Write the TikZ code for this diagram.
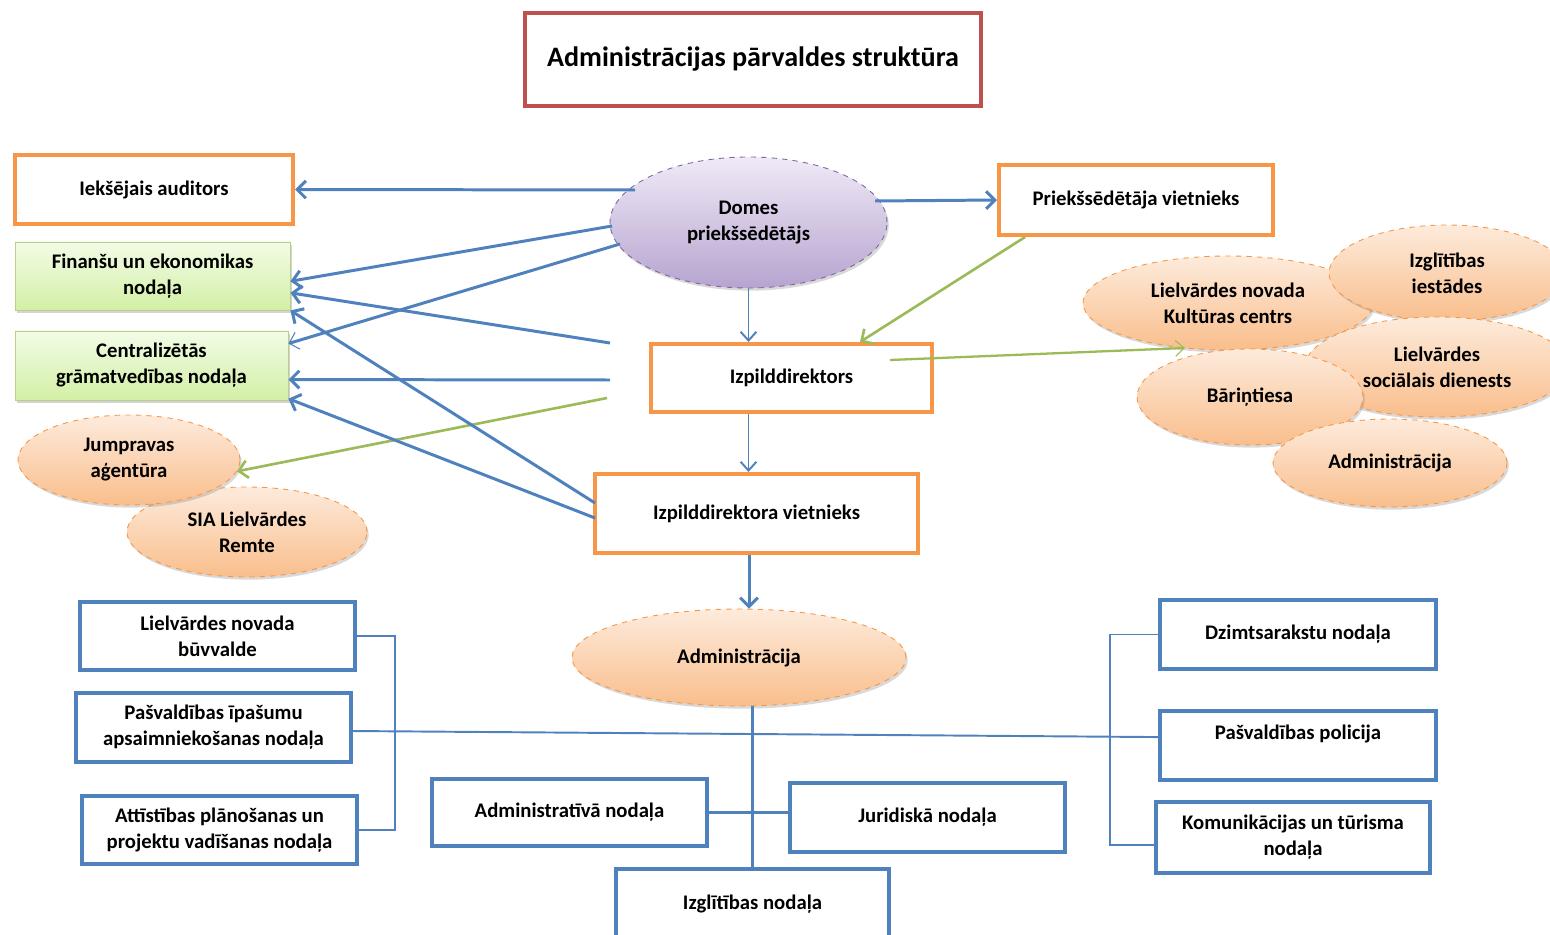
\documentclass[tikz,border=0pt]{standalone}
\usepackage{fontspec}
\setmainfont{Carlito}
\usetikzlibrary{arrows.meta,shapes.geometric,shadows}
\definecolor{oborder}{HTML}{F79646}
\definecolor{bblue}{HTML}{4F81BD}
\definecolor{tred}{HTML}{C0504D}
\definecolor{ggreen}{HTML}{9BBB59}
\definecolor{gtop}{HTML}{F2FCE6}
\definecolor{gbot}{HTML}{D3EFA6}
\definecolor{otop}{HTML}{FDEBDC}
\definecolor{obot}{HTML}{F9BE8C}
\definecolor{ptop}{HTML}{F0EAF7}
\definecolor{pbot}{HTML}{B6A4CF}
\definecolor{pborder}{HTML}{8064A2}
\begin{document}
\begin{tikzpicture}[x=0.02cm,y=-0.02cm,
  wh/.style 2 args={minimum width={#1*0.02cm}, minimum height={#2*0.02cm}},
  txt/.style={align=center, font=\bfseries\fontsize{11.8}{14.8}\selectfont, inner sep=1pt},
  tbox/.style={draw=tred, line width=2.3pt, fill=white, align=center, font=\bfseries\fontsize{16}{19}\selectfont},
  obox/.style={txt, draw=oborder, line width=2.3pt, fill=white},
  bbox/.style={txt, draw=bblue, line width=2.3pt, fill=white},
  gbox/.style={txt, draw=ggreen!70, line width=0.5pt, top color=gtop, bottom color=gbot,
     drop shadow={opacity=0.35, shadow xshift=1pt, shadow yshift=-1.5pt}},
  oell/.style={txt, ellipse, draw=oborder, dashed, line width=0.5pt, top color=otop, bottom color=obot,
     drop shadow={opacity=0.3, shadow xshift=1pt, shadow yshift=-1.5pt}},
  pell/.style={txt, ellipse, draw=pborder, dashed, line width=0.5pt, top color=ptop, bottom color=pbot,
     drop shadow={opacity=0.3, shadow xshift=1pt, shadow yshift=-1.5pt}},
  barr/.style={draw=bblue, line width=1.7pt, -{Straight Barb[length=5pt,width=10pt]}},
  tarr/.style={draw=bblue, line width=1.1pt, -{Straight Barb[length=5pt,width=9pt]}},
  garr/.style={draw=ggreen, line width=1.5pt, -{Straight Barb[length=5pt,width=10pt]}},
  gtarr/.style={draw=ggreen, line width=1.3pt, -{Straight Barb[length=5pt,width=9pt,line width=0.6pt]}},
  bline/.style={draw=bblue, line width=1.1pt},
  bthick/.style={draw=bblue, line width=1.7pt}
]
\useasboundingbox (0,0) rectangle (1550,935);
\clip (0,0) rectangle (1550,935);

% title
\node[tbox, wh={456}{93}] (title) at (753,59.5) {Administrācijas pārvaldes struktūra};

% left column
\node[obox, wh={278}{69}] (ieks) at (154,189.5) {Iekšējais auditors};
\node[gbox, wh={275}{68}] (fin) at (152.5,276) {Finanšu un ekonomikas\\nodaļa};
\node[gbox, wh={273}{69}] (cgn) at (151.5,365.5) {Centralizētās\\grāmatvedības nodaļa};
\node[oell, wh={240}{90}] (sia) at (247,532) {SIA Lielvārdes\\Remte};
\node[oell, wh={222}{90}] (jump) at (129,460) {Jumpravas\\aģentūra};

% centre
\node[pell, wh={277}{131}] (domes) at (748.5,222.5) {Domes\\priekšsēdētājs};
\node[obox, wh={274}{70}] (pv) at (1136,200) {Priekšsēdētāja vietnieks};
\node[obox, wh={281}{68}] (izd) at (791.5,378) {Izpilddirektors};
\node[obox, wh={323}{79}] (izv) at (756.5,513.5) {Izpilddirektora vietnieks};

% right cluster
\node[oell, wh={290}{94}] (kul) at (1228,303) {Lielvārdes novada\\Kultūras centrs};
\node[oell, wh={236}{96}] (izi) at (1447,273) {Izglītības\\iestādes};
\node[oell, wh={264}{100}] (soc) at (1437,367) {Lielvārdes\\sociālais dienests};
\node[oell, wh={226}{96}] (bar) at (1250,397) {Bāriņtiesa};
\node[oell, wh={234}{88}] (adr) at (1390,463) {Administrācija};

% administration
\node[oell, wh={334}{97}] (adm) at (739,657.5) {Administrācija};

% blue boxes
\node[bbox, wh={275}{68}] (buv) at (217.5,636) {Lielvārdes novada\\būvvalde};
\node[bbox, wh={275}{69}] (pia) at (213.5,727.5) {Pašvaldības īpašumu\\apsaimniekošanas nodaļa};
\node[bbox, wh={275}{68}] (att) at (219.5,830) {Attīstības plānošanas un\\projektu vadīšanas nodaļa};
\node[bbox, wh={275}{67}] (adn) at (569.5,812.5) {Administratīvā nodaļa};
\node[bbox, wh={275}{69}] (jur) at (927.5,817.5) {Juridiskā nodaļa};
\node[bbox, wh={273}{70}] (izg) at (752.5,904) {Izglītības nodaļa};
\node[bbox, wh={276}{69}] (dzim) at (1298,634.5) {Dzimtsarakstu nodaļa};
\node[bbox, wh={276}{69}] (pol) at (1298,745.5) {Pašvaldības policija\\\mbox{}};
\node[bbox, wh={274}{71}] (kom) at (1293,837.5) {Komunikācijas un tūrisma\\nodaļa};

% helper coordinates
\coordinate (d1) at (635,190);
\coordinate (d2) at (612,226);
\coordinate (d3) at (620,244);
\coordinate (e1) at (610,343);
\coordinate (e2) at (610,380);
\coordinate (e3) at (607,398);
\coordinate (v1) at (595,503);
\coordinate (v2) at (595,518);
\coordinate (dp) at (875,201);
\coordinate (g1) at (890,360);
\coordinate (g2) at (1185,348);
\coordinate (axis) at (749,0);
\coordinate (lbrk) at (395,700);
\coordinate (rbrk) at (1110,700);

% arrows from Domes
\draw[barr] (d1) -- (ieks.east);
\draw[barr] (d2) -- ([yshift=-3pt]fin.east);
\draw[draw=bblue, line width=1.7pt, -{Straight Barb[length=5pt,width=10pt,line width=0.6pt]}] (d3) -- ([yshift=12.5pt]cgn.east);
\draw[barr] (dp) -- (pv.west);
\draw[tarr] (domes.south) -- (domes.south |- izd.north);

% arrows from Izpilddirektors side
\draw[barr] (e1) -- ([yshift=-9.6pt]fin.east);
\draw[barr] (e2) -- ([yshift=-8pt]cgn.east);
\draw[garr] (e3) -- (jump.-6);
\draw[tarr] (izd.south -| domes.south) -- (izv.north -| domes.south);
\draw[gtarr] (g1) -- (g2);
\draw[garr] ([xshift=16pt]pv.south west) -- ([xshift=39pt]izd.north);

% arrows from Izpilddirektora vietnieks
\draw[barr] (v1) -- (fin.south east);
\draw[barr] (v2) -- ([yshift=1pt]cgn.south east);
\draw[barr] (izv.south -| axis) -- (adm.north -| axis);

% tree under Administrācija
\draw[bthick] (adm.south -| izg.north) -- (izg.north);
\draw[bthick] (adn.east) -- (adn.east -| jur.west);
\draw[bline] (buv.east) -| (lbrk) |- (att.east);
\draw[bline] ([yshift=-2pt]pia.east) -- ([yshift=4.8pt]pol.west);
\draw[bline] (dzim.west) -| (rbrk) |- ([yshift=-4pt]kom.west);
\end{tikzpicture}
\end{document}
